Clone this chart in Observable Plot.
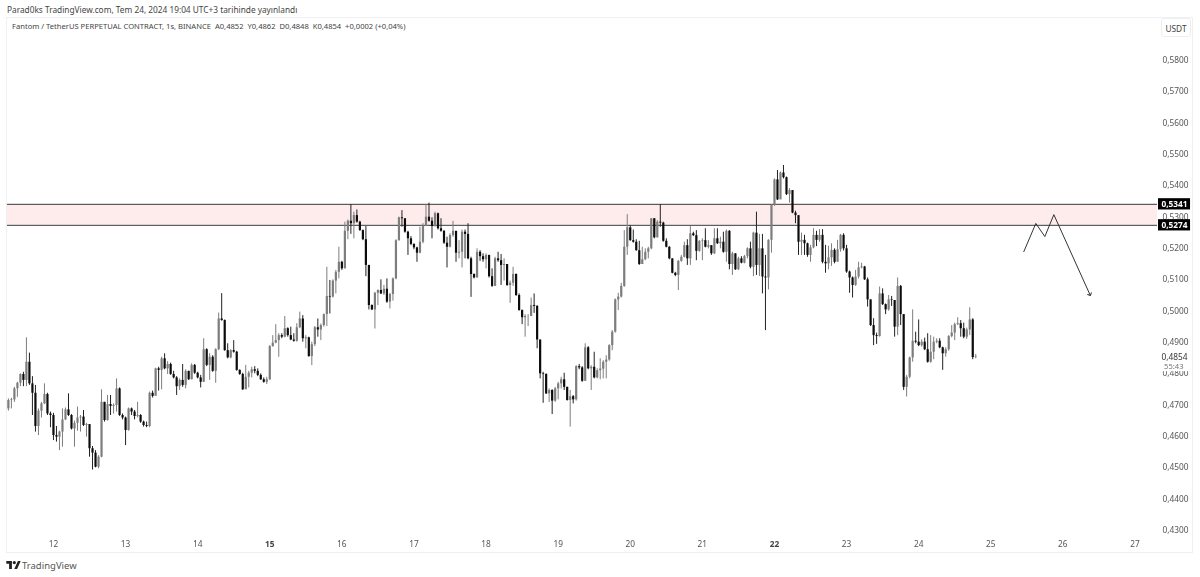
<!DOCTYPE html>
<html><head><meta charset="utf-8">
<script src="https://cdn.jsdelivr.net/npm/d3@7"></script>
<script src="https://cdn.jsdelivr.net/npm/@observablehq/plot@0.6"></script>
<style>
html,body{margin:0;padding:0;background:#fff;width:1200px;height:577px;overflow:hidden;font-family:"Noto Sans",sans-serif}
#chart{position:absolute;left:0;top:0;filter:blur(0.3px)}
.t{position:absolute;white-space:nowrap;color:#333}
#frame{position:absolute;left:6px;top:17px;width:1187px;height:536px;border:1px solid #eef0f3;box-sizing:border-box}
#usdt{position:absolute;left:1161px;top:18px;width:30px;height:19px;border:1px solid #eceef1;border-radius:3px;font-size:8.3px;line-height:19px;text-align:center;box-sizing:border-box;color:#444}
</style></head><body>
<div id="frame"></div>
<div id="chart"></div>
<div class="t" style="left:7px;top:4px;font-size:8.3px;color:#444">Parad0ks TradingView.com, Tem 24, 2024 19:04 UTC+3 tarihinde yayınlandı</div>
<div class="t" style="left:12px;top:21px;font-size:7.6px;color:#444">Fantom / TetherUS PERPETUAL CONTRACT, 1s, BINANCE &nbsp;A0,4852 &nbsp;Y0,4862 &nbsp;D0,4848 &nbsp;K0,4854 &nbsp;+0,0002 (+0,04%)</div>
<div id="usdt">USDT</div>
<svg style="position:absolute;left:6px;top:561px" width="15" height="8" viewBox="0 0 36 20"><path fill="#222" d="M0 0h14v20H7V7H0zM29 0h7l-9 20h-7l9-20z"/><circle cx="20" cy="4" r="4" fill="#222"/></svg>
<div class="t" style="left:22px;top:559px;font-size:9.5px;color:#555">TradingView</div>
<script>
const startHour = Date.UTC(2024, 6, 11, 9);
const firstOpen = 4688;
// prices in ten-thousandths, one value per hourly candle
const closes = [
4715,4717,4752,4770,4798,4779,4837,4768,4738,4632,
4681,4704,4734,4672,4667,4603,4598,4614,4653,4685,
4667,4624,4642,4659,4662,4635,4638,4561,4547,4502,
4534,4709,4651,4702,4696,4699,4752,4667,4659,4619,
4688,4678,4664,4667,4646,4635,4632,4738,4728,4816,
4811,4848,4816,4830,4798,4787,4759,4779,4763,4808,
4781,4827,4802,4787,4773,4877,4827,4853,4808,4877,
4975,4970,4874,4851,4874,4869,4811,4798,4749,4789,
4802,4813,4808,4795,4781,4773,4781,4887,4898,4906,
4922,4917,4944,4922,4908,4904,4947,4975,
4912,4915,
4855,4893,4947,4940,4954,4989,5047,5045,5096,5124,
5156,5135,5255,5287,5279,5305,5284,5257,5228,5146,
5018,5004,5057,5066,5055,5070,5029,5053,5103,5225,
5298,5295,5252,5231,5213,5202,5185,5220,5270,5300,
5287,5270,5311,5263,5255,5217,5204,5241,5255,5185,
5188,5252,5245,5167,5117,5106,5188,5174,5164,5178,
5110,5079,5167,5161,5146,5149,5082,5089,5117,5050,
5002,4979,4983,4983,5018,5015,4908,
4800,4798,4736,
4747,4713,4752,4768,4781,4757,4715,4727,4717,4823,
4819,4776,4883,4816,4821,4787,4810,4815,4837,4844,
4890,4933,5036,5045,5079,5204,5266,5225,5220,5193,
5149,5164,5188,5199,5295,5234,5284,5281,5223,5204,
5167,5121,5114,5159,5172,5209,5167,5247,5241,5191,
5223,5225,5204,5209,5183,5231,5215,5220,5188,5255,
5149,5183,5132,5167,5153,5174,5199,5140,5249,
5146,
5199,5109,5106,5226,5337,5419,5355,5441,5426,5372,
5385,5313,5305,5220,5226,5215,5178,5202,5242,5226,
5242,5156,5151,5170,5194,5156,5196,5242,5199,5125,
5106,5082,5109,5138,5141,5100,5036,4954,4922,4919,
5055,5021,5004,5036,5034,4949,5079,4989,4757,4789,
4851,4904,4901,4890,4901,4877,4837,4869,4901,4904,
4883,4864,4877,4919,4930,4957,4960,4944,4917,4940,
4972,4852,4854];
const highs = [
4720,4722,4757,4773,4800,4805,4915,4866,4791,4763,
4688,4709,4768,4738,4678,4674,4632,4617,4688,4691,
4736,4670,4649,4694,4667,4683,4642,4638,4568,4555,
4539,4749,4709,4731,4731,4704,4784,4755,4672,4662,
4691,4691,4683,4709,4670,4649,4646,4742,4745,4818,
4821,4853,4864,4839,4834,4808,4791,4784,4830,4813,
4808,4832,4830,4805,4795,4912,4880,4864,4858,4880,
4994,5056,4972,4896,4877,4906,4872,4813,4802,4827,
4808,4821,4823,4816,4800,4787,4789,4890,4922,4957,
4928,4928,4983,4947,4949,4928,4960,4997,
4986,4922,
4917,4901,4951,4975,4959,4991,5140,5098,5100,5130,
5204,5159,5284,5291,5340,5316,5323,5287,5259,5270,
5146,5020,5060,5068,5100,5082,5103,5057,5106,5228,
5300,5321,5295,5255,5238,5215,5204,5268,5279,5340,
5345,5298,5316,5313,5295,5257,5236,5247,5287,5245,
5225,5259,5259,5279,5172,5119,5199,5193,5183,5183,
5178,5135,5172,5188,5181,5167,5146,5096,5140,5119,
5055,5004,4989,4989,5042,5055,5018,
4908,4805,4800,
4752,4749,4757,4773,4789,4802,4757,4747,4731,4826,
4830,4823,4896,4887,4826,4869,4816,4848,4842,4858,
4893,4938,5039,5057,5089,5257,5308,5273,5259,5228,
5223,5204,5199,5204,5295,5295,5289,5340,5284,5231,
5206,5167,5124,5162,5178,5220,5228,5270,5252,5257,
5225,5231,5263,5225,5209,5263,5263,5236,5252,5259,
5257,5188,5183,5172,5174,5178,5202,5220,5252,
5316,
5245,5245,5178,5228,5340,5422,5449,5444,5465,5428,
5391,5380,5319,5302,5249,5242,5217,5210,5263,5255,
5260,5260,5210,5207,5215,5199,5226,5245,5247,5210,
5128,5109,5130,5156,5153,5143,5106,5036,4976,4930,
5077,5071,5023,5050,5047,5034,5106,5082,4989,4795,
4853,5004,4933,4972,4909,4914,4928,4922,4917,4912,
4912,4885,4883,4922,4954,4962,4979,4970,4962,4946,
5011,4976,4862];
const lows = [
4681,4688,4709,4725,4759,4759,4759,4763,4667,4614,
4603,4659,4702,4667,4628,4587,4582,4555,4566,4651,
4664,4621,4566,4617,4614,4632,4598,4534,4493,4500,
4497,4532,4646,4649,4667,4672,4678,4664,4653,4571,
4617,4667,4653,4659,4642,4630,4628,4628,4723,4736,
4745,4749,4813,4798,4795,4784,4731,4747,4757,4752,
4779,4781,4798,4784,4755,4772,4823,4779,4805,4770,
4874,4968,4872,4848,4848,4866,4808,4795,4747,4752,
4755,4787,4800,4791,4779,4770,4766,4779,4885,4896,
4853,4912,4915,4917,4906,4901,4901,4944,
4901,4880,
4853,4826,4887,4917,4906,4949,4951,4991,5042,5055,
5103,5130,5135,5228,5245,5231,5281,5255,5225,5110,
5004,5002,4943,5018,5053,5050,5025,5007,5032,5100,
5223,5268,5249,5178,5209,5196,5156,5183,5215,5270,
5284,5231,5268,5259,5252,5213,5138,5202,5236,5156,
5167,5138,5167,5164,5044,5103,5106,5159,5156,5135,
5106,5076,5079,5156,5082,5096,5079,5025,5079,5047,
5000,4957,4917,4951,4986,4993,4880,
4784,4706,4734,
4709,4670,4709,4717,4752,4747,4713,4630,4704,4713,
4813,4773,4813,4813,4747,4784,4784,4781,4784,4784,
4840,4874,4930,5002,5042,5076,5178,5223,5217,5191,
5146,5151,5161,5167,5196,5231,5234,5268,5220,5202,
5164,5119,5110,5066,5156,5170,5146,5146,5238,5161,
5188,5161,5202,5199,5178,5181,5213,5199,5185,5156,
5132,5114,5130,5130,5151,5151,5167,5135,5110,
5114,
5111,5055,4938,5068,5185,5334,5353,5364,5422,5369,
5345,5311,5279,5178,5178,5178,5172,5156,5199,5206,
5220,5151,5121,5132,5143,5151,5178,5188,5192,5121,
5057,5042,5079,5103,5135,5098,5013,4951,4890,4894,
4917,5018,4989,5000,5015,4917,4922,4954,4747,4726,
4784,4837,4896,4887,4885,4874,4834,4834,4845,4896,
4880,4811,4853,4872,4915,4906,4954,4917,4912,4910,
4922,4845,4848];

const priceTicks = [0.43,0.44,0.45,0.46,0.47,0.48,0.49,0.50,0.51,0.52,0.53,0.54,0.55,0.56,0.57,0.58];
const dayTicks = [12,13,14,15,16,17,18,19,20,21,22,23,24,25,26,27];
const boldDays = [15,22];
const zoneTop = 0.5341, zoneBottom = 0.5274, lastPrice = 0.4854;
const countdown = "55:43";
const forecastTimes = [Date.UTC(2024,6,25,11),Date.UTC(2024,6,25,15),Date.UTC(2024,6,25,18),Date.UTC(2024,6,25,21),Date.UTC(2024,6,26,9)];
const forecastPrices = [0.5190,0.5280,0.5238,0.5308,0.5053];

const day = d => new Date(Date.UTC(2024,6,d));
const comma = v => v.toFixed(4).replace(".", ",");
const xLeft = new Date(Date.UTC(2024,6,11,8,42));
const xRight = new Date(Date.UTC(2024,6,27,7,30));
const boxLeft = new Date(Date.UTC(2024,6,27,7,50));
const boxRight = new Date(Date.UTC(2024,6,27,18,30));

const candles = closes.map((c,i)=>{
  const o = i ? closes[i-1] : firstOpen;
  return {t:new Date(startHour+i*3600000),open:o/1e4,close:c/1e4,high:highs[i]/1e4,low:lows[i]/1e4,up:c>=o};
});
const forecast = forecastTimes.map((t,i)=>({t:new Date(t),p:forecastPrices[i]}));
const zoneLabels = [zoneTop,zoneBottom];
const up = "#7d7d7d", down = "#0c0c0c";

const plot = Plot.plot({
  width:1200,height:577,marginLeft:7,marginRight:43,marginTop:17,marginBottom:37,
  style:{background:"transparent",fontFamily:"'Noto Sans',sans-serif"},
  x:{type:"utc",domain:[xLeft,xRight],range:[7,1157],label:null},
  y:{domain:[0.43,0.58],range:[530,60],label:null},
  marks:[
    Plot.axisY({anchor:"right",ticks:priceTicks,tickFormat:comma,tickSize:0,tickPadding:31,textAnchor:"end",fontSize:8.3,fill:"#555",label:null}),
    Plot.axisX({anchor:"bottom",ticks:dayTicks.filter(d=>!boldDays.includes(d)).map(day),tickFormat:d=>d.getUTCDate(),tickSize:0,tickPadding:1,fontSize:8.3,fill:"#555",label:null}),
    Plot.axisX({anchor:"bottom",ticks:boldDays.map(day),tickFormat:d=>d.getUTCDate(),tickSize:0,tickPadding:1,fontSize:8.3,fontWeight:"bold",fill:"#444",label:null}),
    Plot.rect([0],{x1:()=>xLeft,x2:()=>xRight,y1:()=>zoneBottom,y2:()=>zoneTop,fill:"#feecec"}),
    Plot.ruleY(zoneLabels,{x1:xLeft,x2:xRight,stroke:"#3a3a3a",strokeWidth:1}),
    Plot.ruleX(candles,{x:"t",y1:"low",y2:"high",stroke:d=>d.up?up:"#222",strokeWidth:1}),
    Plot.ruleX(candles,{x:"t",y1:"open",y2:"close",stroke:d=>d.up?up:down,strokeWidth:2.2}),
    Plot.line(forecast,{x:"t",y:"p",stroke:"#333",strokeWidth:1,markerEnd:"arrow"}),
    Plot.rect(zoneLabels,{x1:()=>boxLeft,x2:()=>boxRight,y1:d=>d-0.0018,y2:d=>d+0.0018,fill:"#000"}),
    Plot.text(zoneLabels,{x:()=>boxRight,y:d=>d,text:comma,textAnchor:"end",dx:-3,fill:"#fff",fontSize:8.3,fontWeight:"bold"}),
    Plot.rect([0],{x1:()=>boxLeft,x2:()=>boxRight,y1:()=>0.4807,y2:()=>0.4871,fill:"#fff"}),
    Plot.text([lastPrice],{x:()=>boxRight,y:d=>d,text:comma,textAnchor:"end",dx:-3,fill:"#333",fontSize:8.3}),
    Plot.text([countdown],{x:()=>boxRight,y:()=>0.4823,text:d=>d,textAnchor:"end",dx:-7,fill:"#777",fontSize:7.6})
  ]
});
document.getElementById("chart").appendChild(plot);
</script>
</body></html>
